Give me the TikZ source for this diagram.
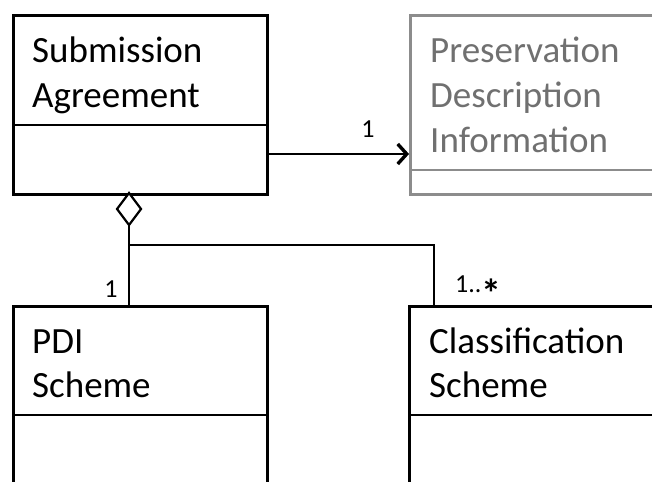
\documentclass[tikz,border=0pt]{standalone}
\usepackage{fontspec}
\setmainfont{Carlito}
\usetikzlibrary{arrows.meta}
\definecolor{umlgray}{RGB}{140,140,140}
\definecolor{umlgraytext}{RGB}{112,112,112}
\tikzset{
  umlbox/.style={draw=black, line width=2.8pt, rectangle, anchor=north west, inner sep=0pt, fill=white},
  fadedbox/.style={umlbox, draw=umlgray},
  classname/.style={anchor=base west, inner sep=0pt, font=\fontsize{37}{45}\selectfont},
  mult/.style={anchor=base, inner sep=0pt, font=\fontsize{26}{30}\selectfont},
  conn/.style={line width=2.6pt, black},
}
\begin{document}
\begin{tikzpicture}[x=1pt, y=-1pt]
\useasboundingbox (0,0) rectangle (652,481);
\clip (0,0) rectangle (652,481);

% Submission Agreement
\node[umlbox, minimum width=254pt, minimum height=179pt] (sa) at (12,14) {};
\draw[line width=2.2pt] (12,125) -- (266,125);
\node[classname] (saA) at (32,63) {Submission};
\node[classname] (saB) at (32,108) {Agreement};

% Preservation Description Information (extends past the right edge)
\node[fadedbox, minimum width=280pt, minimum height=179pt] (pdi) at (409,14) {};
\draw[umlgray, line width=2.2pt] (409,170) -- (700,170);
\node[classname, text=umlgraytext] (pdiA) at (430,63) {Preservation};
\node[classname, text=umlgraytext] (pdiB) at (430,108) {Description};
\node[classname, text=umlgraytext] (pdiC) at (430,153) {Information};

% PDI Scheme
\node[umlbox, minimum width=254pt, minimum height=230pt] (ps) at (12,305) {};
\draw[line width=2.2pt] (12,415) -- (266,415);
\node[classname] (psA) at (32,353) {PDI};
\node[classname] (psB) at (32,397) {Scheme};

% Classification Scheme
\node[umlbox, minimum width=280pt, minimum height=230pt] (cs) at (408,305) {};
\draw[line width=2.2pt] (408,415) -- (700,415);
\node[classname] (csA) at (429,353) {Classification};
\node[classname] (csB) at (429,397) {Scheme};

% Association to PDI
\coordinate (saR) at (sa.east |- 0,154);
\coordinate (pdiL) at (pdi.west |- 0,154);
\draw[conn, -{Straight Barb[length=9pt, width=20pt, line width=3.4pt]}] (saR) -- (pdiL);
\node[mult] (m1) at (368,138) {1};

% Aggregation with hollow diamond
\coordinate (dTop) at (129,193);
\coordinate (dBot) at (129,225);
\draw[line width=2.2pt, fill=white, line join=miter] (dTop) -- (141,209) -- (dBot) -- (117,209) -- cycle;
\coordinate (fork) at (129,245);
\coordinate (csTop) at (434,305);
\draw[conn] (dBot) -- (fork) -- (129,305);
\draw[conn] (fork) -- (434,245) -- (csTop);
\node[mult] (m2) at (111,297) {1};
\node[mult, anchor=base west] (m3) at (455,292)
  {1..\raisebox{-0.6em}{\fontsize{40}{40}\selectfont\bfseries *}};
\end{tikzpicture}
\end{document}
